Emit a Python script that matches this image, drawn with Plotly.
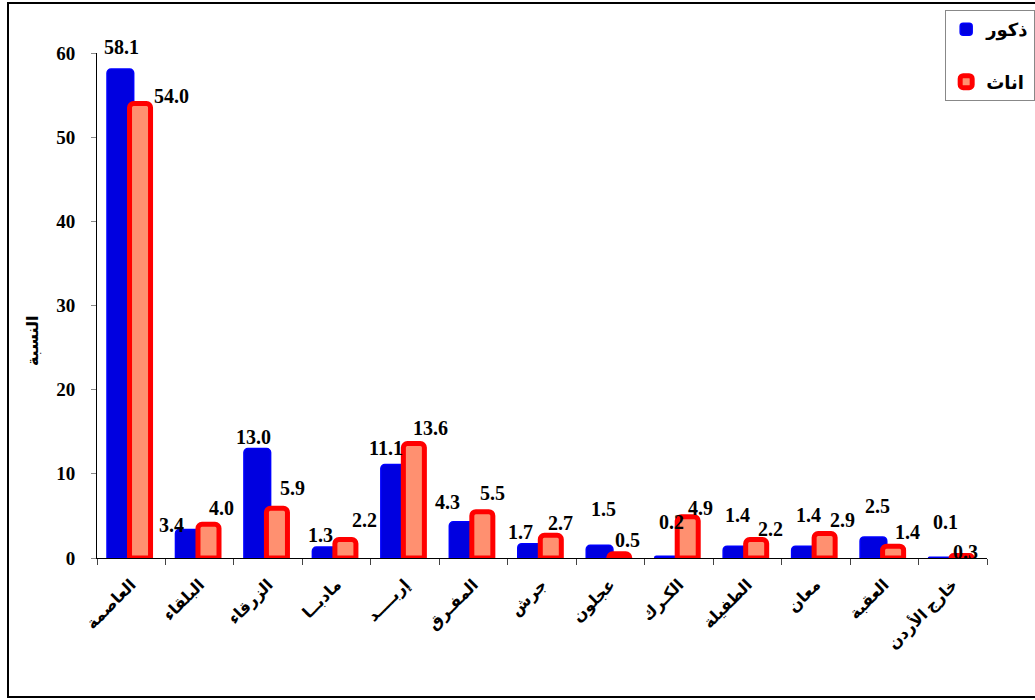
import plotly.graph_objects as go

categories = ["العاصمة", "البلقاء", "الزرقاء", "مادبــا", "إربــــد", "المفـرق", "جرش",
              "عجلون", "الكـرك", "الطفيلة", "معان", "العقبة", "خارج الأردن"]
males = [58.1, 3.4, 13.0, 1.3, 11.1, 4.3, 1.7, 1.5, 0.2, 1.4, 1.4, 2.5, 0.1]
females = [54.0, 4.0, 5.9, 2.2, 13.6, 5.5, 2.7, 0.5, 4.9, 2.2, 2.9, 1.4, 0.3]
y_ticks = [0, 10, 20, 30, 40, 50, 60]
name_m = "ذكور"
name_f = "اناث"
y_title = "النسبة"

# label placement offsets (pixels) relative to each bar's value point
m_dx = [-10, -28, -15, -16, -19, -26, -22, -7, -7, -10, -7, -7, -7]
m_dy = [22, 4, 12, 12, 17, 20, 12, 36, 34, 31, 31, 31, 35]
f_dx = [40, 22, 24, 28, 25, 19, 18, 17, 22, 23, 27, 23, 13]
f_dy = [8, 16, 20, 19, 16, 19, 12, 14, 9, 10, 14, 14, 3]

FONT = "Liberation Serif, DejaVu Sans, serif"

fig = go.Figure()
fig.add_trace(go.Bar(
    x=categories, y=males, name=f"<b>{name_m}</b>", legendgroup="m",
    offset=-0.354, width=0.39,
    marker=dict(color="#0000e0", line=dict(color="#0000ff", width=1.5)),
))
fig.add_trace(go.Bar(
    x=categories, y=females, name=f"<b>{name_f}</b>", legendgroup="f",
    offset=-0.025, width=0.307,
    marker=dict(color="#ff9070", line=dict(color="#ff0000", width=5)),
))

annotations = []
for c, v, dx, dy in zip(categories, males, m_dx, m_dy):
    annotations.append(dict(x=c, y=v, xref="x", yref="y", text=f"<b>{v:.1f}</b>",
                            showarrow=False, xshift=dx, yshift=dy, yanchor="middle",
                            font=dict(family=FONT, size=20, color="black")))
for c, v, dx, dy in zip(categories, females, f_dx, f_dy):
    annotations.append(dict(x=c, y=v, xref="x", yref="y", text=f"<b>{v:.1f}</b>",
                            showarrow=False, xshift=dx, yshift=dy, yanchor="middle",
                            font=dict(family=FONT, size=20, color="black")))
annotations.append(dict(x=-0.084, y=0.43, xref="paper", yref="paper",
                        text=f"<b>{y_title}</b>", textangle=-90, showarrow=False,
                        font=dict(family=FONT, size=16, color="black")))

fig.update_layout(
    width=1035, height=700, autosize=False,
    margin=dict(l=97, r=48, t=53, b=142, autoexpand=False),
    paper_bgcolor="white", plot_bgcolor="white",
    barmode="overlay", barcornerradius=4,
    font=dict(family=FONT, color="black"),
    annotations=annotations,
    legend=dict(x=0.953, y=1.085, xanchor="left", yanchor="top",
                bordercolor="#888888", borderwidth=1, bgcolor="white",
                traceorder="grouped", tracegroupgap=26,
                font=dict(family=FONT, size=18, color="black")),
    shapes=[dict(type="rect", xref="paper", yref="paper",
                 x0=-0.1, x1=1.06, y0=-0.275, y1=1.099,
                 line=dict(color="black", width=2))],
)
fig.update_xaxes(type="category", range=[-0.5, len(categories) - 0.5],
                 tickvals=categories, ticktext=[f"<b>{c}</b>" for c in categories],
                 showline=True, linecolor="black", linewidth=1,
                 ticks="outside", tickson="boundaries", ticklen=6, tickcolor="#444444",
                 tickangle=-45, ticklabelstandoff=10,
                 tickfont=dict(family=FONT, size=16, color="black"),
                 showgrid=False, automargin=False)
fig.update_yaxes(range=[0, 60], tickvals=y_ticks,
                 ticktext=[f"<b>{t}</b>" for t in y_ticks],
                 showline=True, linecolor="black", linewidth=1,
                 ticks="outside", ticklen=5, tickcolor="#888888",
                 ticklabelstandoff=12, showgrid=False, zeroline=False,
                 tickfont=dict(family=FONT, size=19, color="black"), automargin=False)

fig.write_html("out.html", config={"displayModeBar": False, "responsive": False},
               post_script="document.body.style.margin='0';document.body.style.overflow='hidden';")
